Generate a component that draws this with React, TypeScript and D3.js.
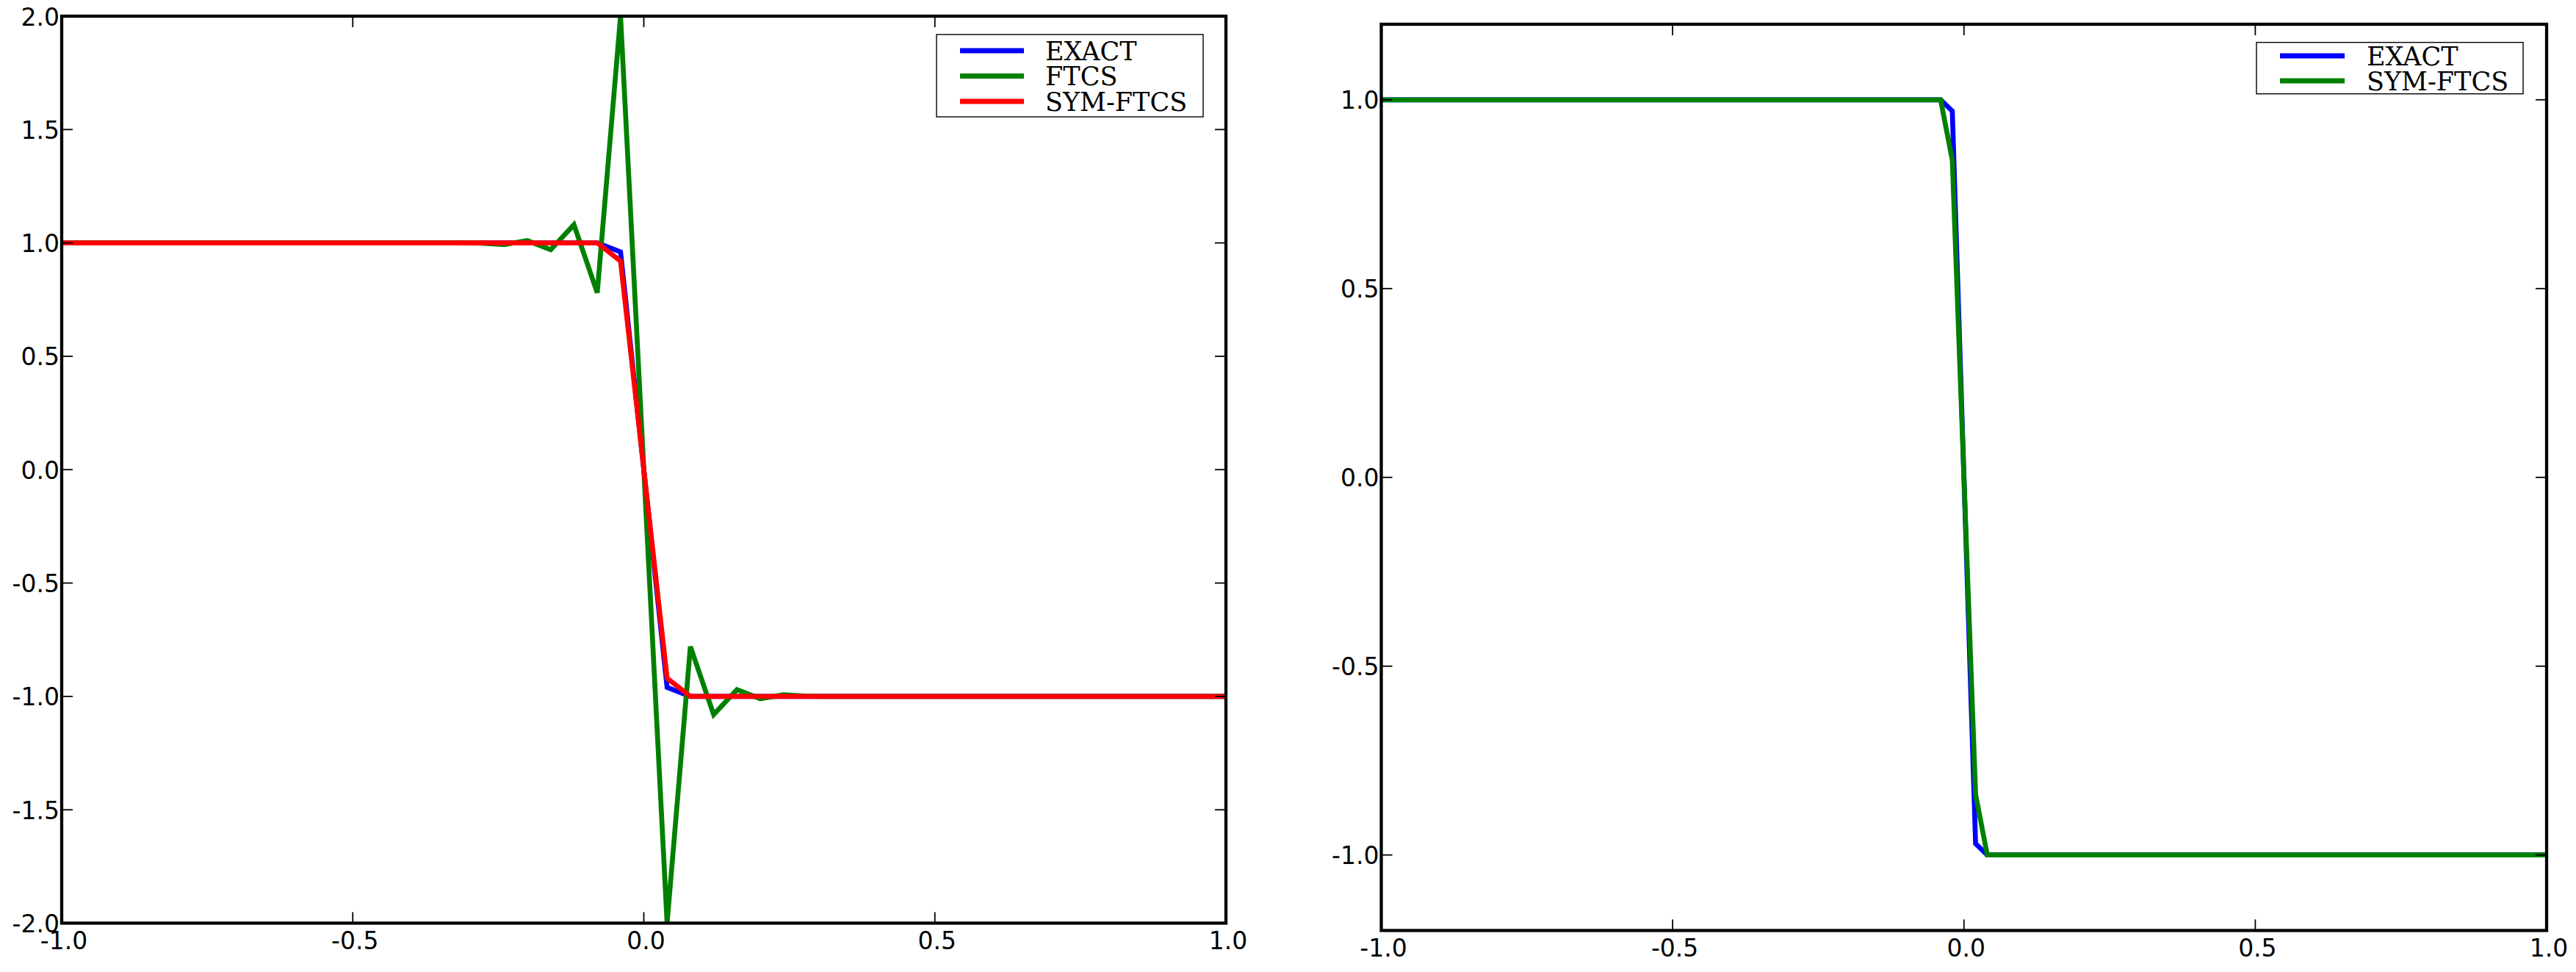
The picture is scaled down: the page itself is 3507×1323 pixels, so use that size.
import React from 'react';
import * as d3 from 'd3';

// sampling grids (left: dx = 0.04, right: dx = 0.02)
const xLeft = d3.range(51).map((i) => -1 + i * 0.04);
const xRight = d3.range(101).map((i) => -1 + i * 0.02);

// left panel series, one value per grid point
const exactLeft = [
  1, 1, 1, 1, 1, 1, 1, 1, 1, 1,
  1, 1, 1, 1, 1, 1, 1, 1, 1, 1,
  1, 1, 1, 1, 0.96, 0, -0.96, -1, -1, -1,
  -1, -1, -1, -1, -1, -1, -1, -1, -1, -1,
  -1, -1, -1, -1, -1, -1, -1, -1, -1, -1,
  -1,
];
const ftcsLeft = [
  1, 1, 1, 1, 1, 1, 1, 1, 1, 1,
  1, 1, 1, 1, 1, 1, 1, 1, 0.999, 0.993,
  1.01, 0.97, 1.08, 0.78, 2.0, 0, -2.0, -0.78, -1.08, -0.97,
  -1.01, -0.993, -0.999, -1, -1, -1, -1, -1, -1, -1,
  -1, -1, -1, -1, -1, -1, -1, -1, -1, -1,
  -1,
];
const symLeft = [
  1, 1, 1, 1, 1, 1, 1, 1, 1, 1,
  1, 1, 1, 1, 1, 1, 1, 1, 1, 1,
  1, 1, 1, 1, 0.92, 0, -0.92, -1, -1, -1,
  -1, -1, -1, -1, -1, -1, -1, -1, -1, -1,
  -1, -1, -1, -1, -1, -1, -1, -1, -1, -1,
  -1,
];

// right panel series
const exactRight = [
  1, 1, 1, 1, 1, 1, 1, 1, 1, 1,
  1, 1, 1, 1, 1, 1, 1, 1, 1, 1,
  1, 1, 1, 1, 1, 1, 1, 1, 1, 1,
  1, 1, 1, 1, 1, 1, 1, 1, 1, 1,
  1, 1, 1, 1, 1, 1, 1, 1, 1, 0.97,
  0, -0.97, -1, -1, -1, -1, -1, -1, -1, -1,
  -1, -1, -1, -1, -1, -1, -1, -1, -1, -1,
  -1, -1, -1, -1, -1, -1, -1, -1, -1, -1,
  -1, -1, -1, -1, -1, -1, -1, -1, -1, -1,
  -1, -1, -1, -1, -1, -1, -1, -1, -1, -1,
  -1,
];
const symRight = [
  1, 1, 1, 1, 1, 1, 1, 1, 1, 1,
  1, 1, 1, 1, 1, 1, 1, 1, 1, 1,
  1, 1, 1, 1, 1, 1, 1, 1, 1, 1,
  1, 1, 1, 1, 1, 1, 1, 1, 1, 1,
  1, 1, 1, 1, 1, 1, 1, 1, 1, 0.84,
  0, -0.84, -1, -1, -1, -1, -1, -1, -1, -1,
  -1, -1, -1, -1, -1, -1, -1, -1, -1, -1,
  -1, -1, -1, -1, -1, -1, -1, -1, -1, -1,
  -1, -1, -1, -1, -1, -1, -1, -1, -1, -1,
  -1, -1, -1, -1, -1, -1, -1, -1, -1, -1,
  -1,
];

const xTicks = [-1.0, -0.5, 0.0, 0.5, 1.0];
const yTicksLeft = [-2.0, -1.5, -1.0, -0.5, 0.0, 0.5, 1.0, 1.5, 2.0];
const yTicksRight = [-1.0, -0.5, 0.0, 0.5, 1.0];

const BLUE = '#0000ff';
const GREEN = '#008000';
const RED = '#ff0000';

const TICK_FONT = '"DejaVu Sans", sans-serif';
const LEGEND_FONT = '"DejaVu Serif", serif';

type Series = { name: string; color: string; x: number[]; y: number[] };

type PanelProps = {
  id: string;
  left: number;
  right: number;
  top: number;
  bottom: number;
  yDomain: [number, number];
  yTicks: number[];
  series: Series[];
  legend: { x0: number; x1: number; y0: number; y1: number; rows: number[]; lineX0: number; lineX1: number; textX: number };
};

const Panel = ({ id, left, right, top, bottom, yDomain, yTicks, series, legend }: PanelProps) => {
  const x = d3.scaleLinear().domain([-1, 1]).range([left, right]);
  const y = d3.scaleLinear().domain(yDomain).range([bottom, top]);
  const tickLen = 15;

  return (
    <g>
      <defs>
        <clipPath id={id}>
          <rect x={left} y={top} width={right - left} height={bottom - top} />
        </clipPath>
      </defs>
      <g clipPath={`url(#${id})`}>
        {series.map((s) => {
          const line = d3
            .line<number>()
            .x((_, i) => x(s.x[i]))
            .y((v) => y(v));
          return (
            <path
              key={s.name}
              d={line(s.y) || ''}
              fill="none"
              stroke={s.color}
              strokeWidth={6.7}
              strokeLinejoin="miter"
            />
          );
        })}
      </g>

      {/* ticks, inward on all four sides */}
      {xTicks.map((t) => (
        <g key={'x' + t}>
          <line x1={x(t)} x2={x(t)} y1={bottom} y2={bottom - tickLen} stroke="#000" strokeWidth={1.8} />
          <line x1={x(t)} x2={x(t)} y1={top} y2={top + tickLen} stroke="#000" strokeWidth={1.8} />
          <text
            x={x(t) + 3}
            y={bottom + 35}
            textAnchor="middle"
            fontFamily={TICK_FONT}
            fontSize={33}
            fill="#000"
          >
            {t.toFixed(1)}
          </text>
        </g>
      ))}
      {yTicks.map((t) => (
        <g key={'y' + t}>
          <line x1={left} x2={left + tickLen} y1={y(t)} y2={y(t)} stroke="#000" strokeWidth={1.8} />
          <line x1={right} x2={right - tickLen} y1={y(t)} y2={y(t)} stroke="#000" strokeWidth={1.8} />
          <text
            x={left - 3}
            y={y(t) + 12.5}
            textAnchor="end"
            fontFamily={TICK_FONT}
            fontSize={33}
            fill="#000"
          >
            {t.toFixed(1)}
          </text>
        </g>
      ))}

      <rect x={left} y={top} width={right - left} height={bottom - top} fill="none" stroke="#000" strokeWidth={4.3} />

      {/* legend */}
      <rect
        x={legend.x0}
        y={legend.y0}
        width={legend.x1 - legend.x0}
        height={legend.y1 - legend.y0}
        fill="#fff"
        stroke="#000"
        strokeWidth={1.4}
      />
      {series.map((s, i) => (
        <g key={'leg' + s.name}>
          <line
            x1={legend.lineX0}
            x2={legend.lineX1}
            y1={legend.rows[i]}
            y2={legend.rows[i]}
            stroke={s.color}
            strokeWidth={7}
          />
          <text x={legend.textX} y={legend.rows[i] + 12.5} fontFamily={LEGEND_FONT} fontSize={35} fill="#000">
            {s.name}
          </text>
        </g>
      ))}
    </g>
  );
};

const App = () => {
  const leftSeries: Series[] = [
    { name: 'EXACT', color: BLUE, x: xLeft, y: exactLeft },
    { name: 'FTCS', color: GREEN, x: xLeft, y: ftcsLeft },
    { name: 'SYM-FTCS', color: RED, x: xLeft, y: symLeft },
  ];
  const rightSeries: Series[] = [
    { name: 'EXACT', color: BLUE, x: xRight, y: exactRight },
    { name: 'SYM-FTCS', color: GREEN, x: xRight, y: symRight },
  ];

  return (
    <svg
      width={3507}
      height={1323}
      style={{ position: 'absolute', left: 0, top: 0, display: 'block', background: '#fff' }}
    >
      <rect width={3507} height={1323} fill="#fff" />
      <Panel
        id="clipLeft"
        left={84}
        right={1669}
        top={22}
        bottom={1256.5}
        yDomain={[-2, 2]}
        yTicks={yTicksLeft}
        series={leftSeries}
        legend={{ x0: 1275, x1: 1638, y0: 47, y1: 159, rows: [69, 103.5, 138], lineX0: 1307, lineX1: 1394, textX: 1423 }}
      />
      <Panel
        id="clipRight"
        left={1880.5}
        right={3467}
        top={33}
        bottom={1266.5}
        yDomain={[-1.2, 1.2]}
        yTicks={yTicksRight}
        series={rightSeries}
        legend={{ x0: 3072, x1: 3435, y0: 57.7, y1: 127.7, rows: [76, 110], lineX0: 3104, lineX1: 3192, textX: 3222 }}
      />
    </svg>
  );
};

export default App;
